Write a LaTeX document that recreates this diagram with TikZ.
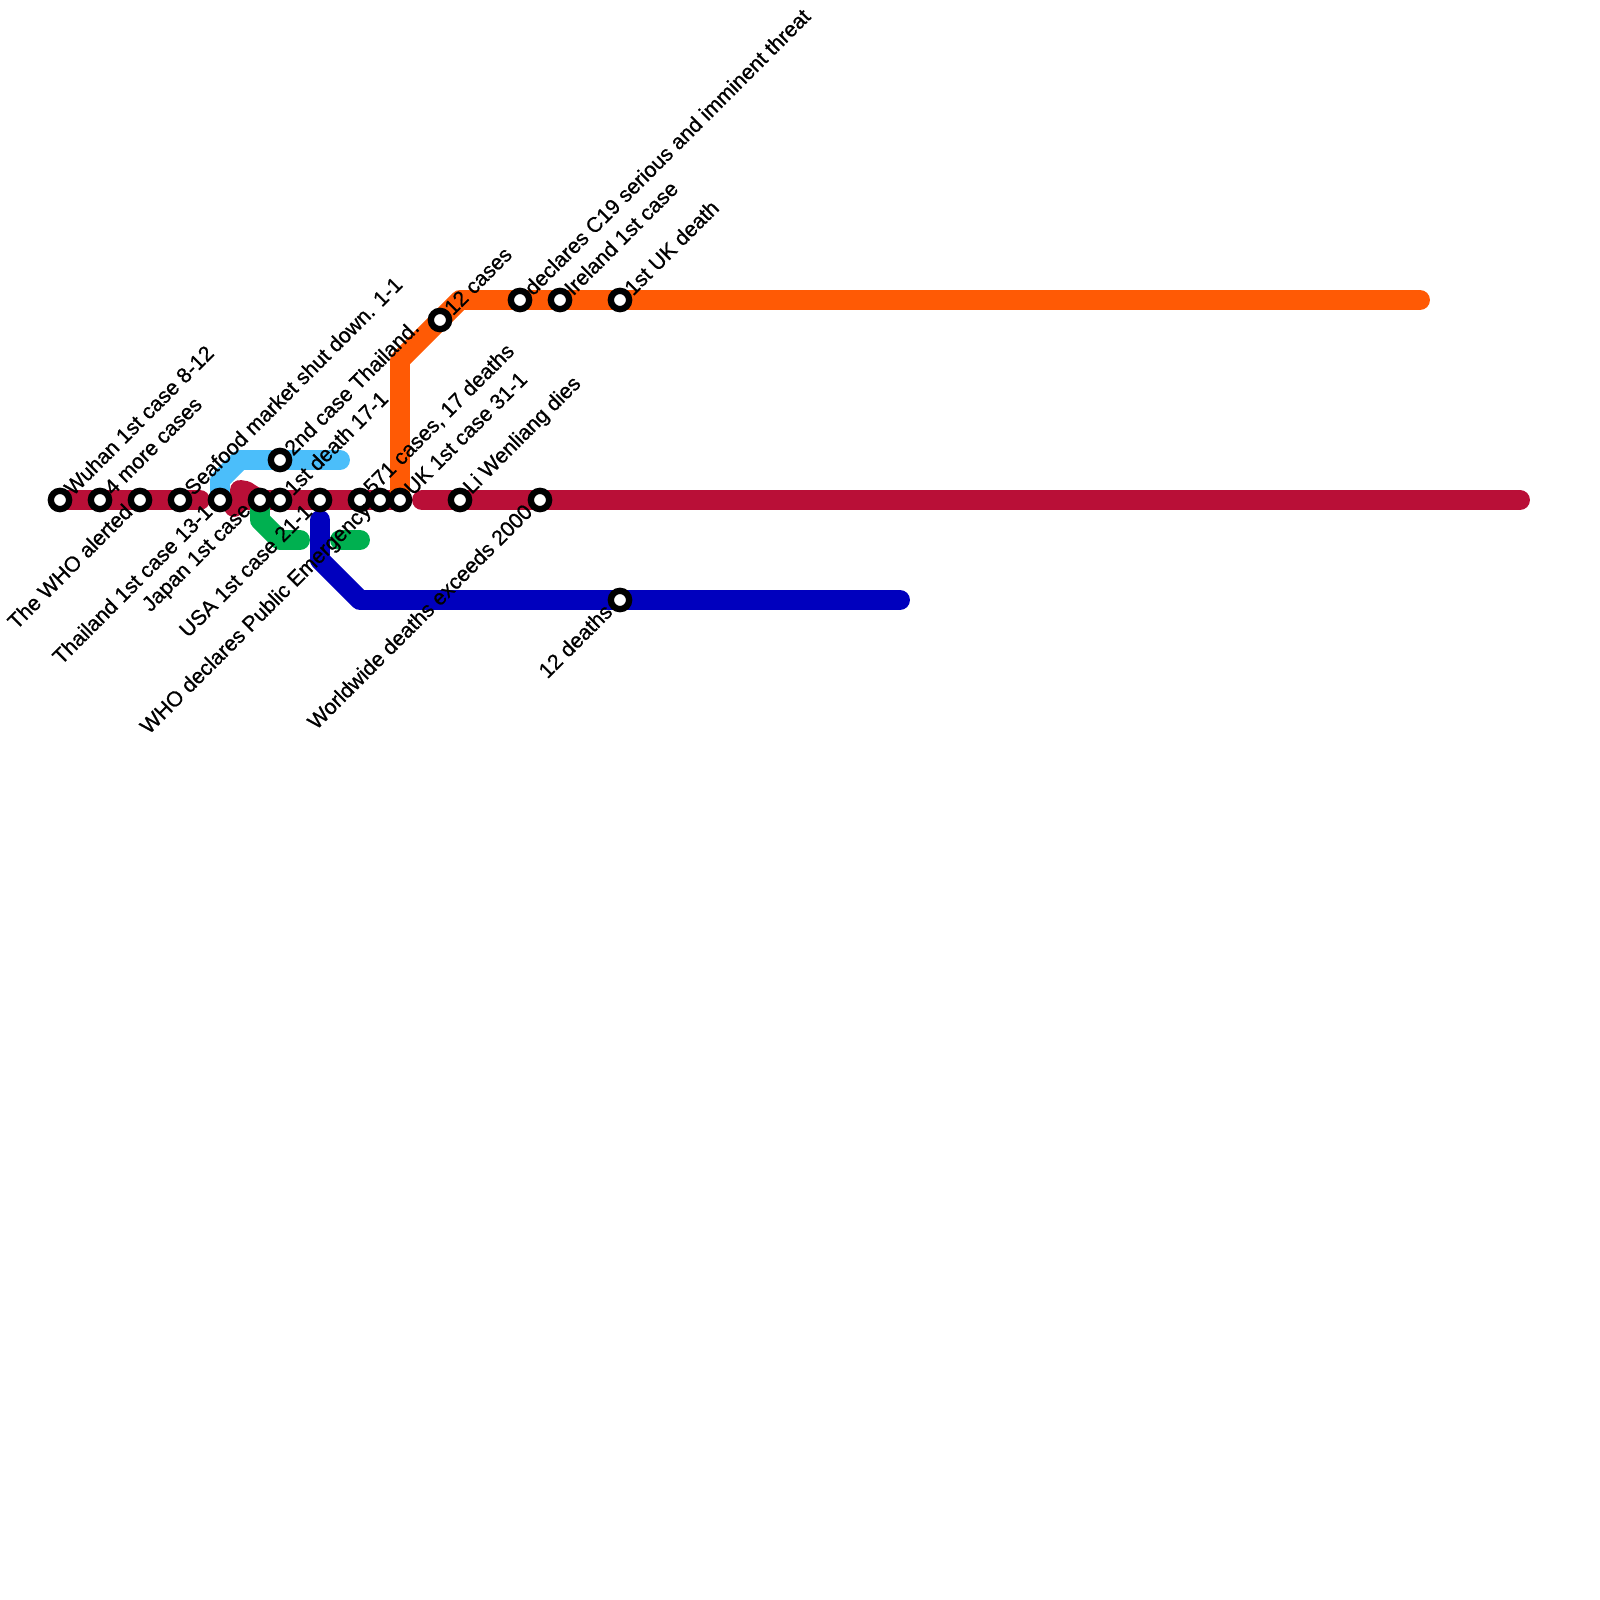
\documentclass[tikz,border=0pt]{standalone}
\usepackage{fontspec}
\setmainfont{Liberation Sans}
\newfontfamily\lblfont{Liberation Sans}[FakeBold=0.8]
\usepackage{xcolor}
\usetikzlibrary{calc,positioning}
\definecolor{linered}{RGB}{185,15,55}
\definecolor{lineorange}{RGB}{255,90,5}
\definecolor{lineblue}{RGB}{0,0,190}
\definecolor{linesky}{RGB}{75,190,250}
\definecolor{linegreen}{RGB}{0,176,80}
\tikzset{
  metro/.style={line width=5.67pt,line cap=round,line join=round},
  stn/.style={circle,draw=black,fill=white,line width=1.8pt,minimum size=5.2pt,inner sep=0pt},
  lblup/.style={font=\lblfont\fontsize{6.05}{6.5}\selectfont,text=black,xshift=2.1pt,yshift=2.4pt,rotate=45,anchor=west,inner sep=0pt},
  lbldown/.style={font=\lblfont\fontsize{6.05}{6.5}\selectfont,text=black,xshift=-3.2pt,yshift=-2.1pt,rotate=45,anchor=east,inner sep=0pt},
}
\begin{document}
\begin{tikzpicture}[x=0.01cm,y=-0.01cm]
    \useasboundingbox (0,0) rectangle (1600,1600);

    % stations on a 20 unit grid
    \foreach \n/\x/\y in {wuhan/60/500,more/100/500,alerted/140/500,seafood/180/500,
        thailand/220/500,japan/260/500,death/280/500,usa/320/500,cases/360/500,
        emergency/380/500,uk/400/500,wenliang/460/500,worldwide/540/500,
        second/280/460,twelve/440/320,declares/520/300,ireland/560/300,ukdeath/620/300,
        deaths/620/600}
        {\coordinate (\n) at (\x,\y);}

    % bends and line ends
    \coordinate (R1) at (200,500);
    \coordinate (R2) at (240,490);
    \coordinate (R3) at (240,500);
    \coordinate (R4) at (234,507);
    \coordinate (R5) at (422,500);
    \coordinate (R6) at (1520,500);
    \coordinate (R7) at (246,491);
    \coordinate (S1) at (220,480);
    \coordinate (S2) at (240,460);
    \coordinate (S3) at (340,460);
    \coordinate (G1) at (260,520);
    \coordinate (G2) at (280,540);
    \coordinate (G3) at (300,540);
    \coordinate (G4) at (340,540);
    \coordinate (G5) at (360,540);
    \coordinate (B1) at (320,520);
    \coordinate (B2) at (320,560);
    \coordinate (B3) at (360,600);
    \coordinate (B4) at (900,600);
    \coordinate (O1) at (400,360);
    \coordinate (O2) at (460,300);
    \coordinate (O3) at (1420,300);

    % lines
    \draw[metro,linered] (wuhan)--(R1);
    \draw[metro,linered,fill=linered] (R2)--(R7)--(japan)--(R3)--cycle;
    \draw[metro,linered] (R3)--(R4);
    \draw[metro,linered] (japan)--(uk);
    \draw[metro,linered] (R5)--(R6);
    \draw[metro,linesky] (thailand)--(S1)--(S2)--(S3);
    \draw[metro,linegreen] (japan)--(G1)--(G2)--(G3);
    \draw[metro,linegreen] (G4)--(G5);
    \draw[metro,lineblue] (B1)--(B2)--(B3)--(B4);
    \draw[metro,lineorange] (uk)--(O1)--(O2)--(O3);

    % station rings
    \foreach \n in {wuhan,more,alerted,seafood,thailand,japan,death,usa,cases,emergency,uk,
        wenliang,worldwide,second,twelve,declares,ireland,ukdeath,deaths}
        {\node[stn] (\n-s) at (\n) {};}

    % labels
    \foreach \n/\t in {wuhan/Wuhan 1st case 8-12,more/4 more cases,seafood/Seafood market shut down. 1-1,
        second/2nd case Thailand.,death/1st death 17-1,cases/{571 cases, 17 deaths},uk/UK 1st case 31-1,
        wenliang/Li Wenliang dies,twelve/12 cases,declares/declares C19 serious and imminent threat,
        ireland/Ireland 1st case,ukdeath/1st UK death}
        {\node[lblup] (\n-l) at (\n) {\t};}
    \foreach \n/\t in {alerted/The WHO alerted,thailand/Thailand 1st case 13-1,japan/Japan 1st case,
        usa/USA 1st case 21-1,emergency/WHO declares Public Emergency,worldwide/Worldwide deaths exceeds 2000,
        deaths/12 deaths}
        {\node[lbldown] (\n-l) at (\n) {\t};}
\end{tikzpicture}
\end{document}
